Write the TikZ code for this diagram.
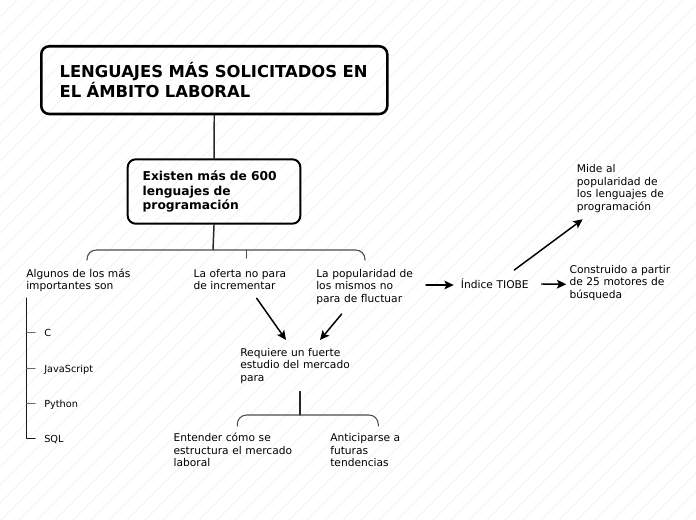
\documentclass[tikz,border=0pt]{standalone}
\usepackage{fontspec}
\setmainfont{DejaVu Sans}
\usetikzlibrary{arrows.meta}

\tikzset{
  fondo/.style={gray!13, line width=0.4pt},
  caja/.style={draw, rounded corners=6pt, anchor=north west, align=left, inner ysep=0pt},
  texto/.style={anchor=base west, inner sep=0pt, align=left, text width=110pt, font=\fontsize{8}{9.4}\selectfont},
  elem/.style={anchor=base west, inner sep=0pt, font=\fontsize{7.3}{9}\selectfont},
  tallo/.style={line width=1.1pt, black!85},
  llave/.style={line width=0.8pt, black!70, rounded corners=7pt},
  lista/.style={line width=1.1pt, black!90},
  marca/.style={line width=0.9pt, black!60},
  flecha/.style={line width=1.1pt, -{Stealth[length=7pt,width=6.5pt,inset=1.5pt]}}
}

\begin{document}
\begin{tikzpicture}[line cap=round, line join=round, x=0.75pt, y=-0.75pt]
\useasboundingbox (0,0) rectangle (696,520);
\fill[white] (0,0) rectangle (696,520);
% fondo rayado
\begin{scope}
  \clip (0,0) rectangle (696,520);
  \foreach \c in {-1,17,...,1223}
    \draw[fondo] (\c,0) -- (\c-520,520);
\end{scope}

% cajas
\node[caja, line width=1.9pt, minimum width=259.5pt, minimum height=50.8pt, text width=232pt, inner xsep=13.75pt,
  font=\fontsize{12.3}{14.5}\selectfont\bfseries] (titulo) at (40,45) {LENGUAJES MÁS SOLICITADOS EN\\EL ÁMBITO LABORAL};
\node[caja, line width=1.5pt, minimum width=129.5pt, minimum height=48.3pt, text width=107pt, inner xsep=11.25pt,
  font=\fontsize{9.2}{11}\selectfont\bfseries] (existen) at (126.7,158.3) {Existen más de 600\\lenguajes de\\programación};

% textos
\node[texto] (algunos) at (26,277) {Algunos de los más\\importantes son};
\node[texto] (oferta) at (193.3,277) {La oferta no para\\de incrementar};
\node[texto] (popular) at (316,277) {La popularidad de\\los mismos no\\para de fluctuar};
\node[texto] (requiere) at (240,356) {Requiere un fuerte\\estudio del mercado\\para};
\node[texto] (entender) at (173.3,441.7) {Entender cómo se\\estructura el mercado\\laboral};
\node[texto] (anticipa) at (330,441.7) {Anticiparse a\\futuras\\tendencias};
\node[texto] (tiobe) at (460.7,288.3) {Índice TIOBE};
\node[texto] (construido) at (569.3,273.3) {Construido a partir\\de 25 motores de\\búsqueda};
\node[texto] (mide) at (576.7,172.7) {Mide al\\popularidad de\\los lenguajes de\\programación};

% lista
\node[elem] (c) at (44,336.7) {C};
\node[elem] (js) at (44,372.3) {JavaScript};
\node[elem] (py) at (44,407.3) {Python};
\node[elem] (sql) at (44,442.3) {SQL};
\coordinate (lst) at ([shift={(0.7,21.3)}]algunos.base west);
\draw[lista] (lst) |- ([shift={(-9,-4)}]sql.base west);
\foreach \n in {c,js,py}
  \draw[marca] ([shift={(-9,-4)}]\n.base west) -- ([shift={(-17.3,-4)}]\n.base west);

% llaves
\coordinate (bu) at (213,250);
\coordinate (b1) at (87,260);
\coordinate (b2) at (246.7,258);
\coordinate (b3) at (365,260);
\draw[tallo] (titulo.south) -- (existen.north);
\draw[tallo] (existen.south) -- (bu);
\draw[llave] (b1) -- (87,250) -- (365,250) -- (b3);
\draw[llave] (b2) -- (246.7,250);
\coordinate (bl) at (300,415);
\coordinate (b4) at (237.3,426);
\coordinate (b5) at (378.3,426);
\draw[tallo, line width=1.4pt] ([shift={(60,35.7)}]requiere.base west) -- (bl);
\draw[llave] (b4) -- (237.3,415) -- (378.3,415) -- (b5);

% flechas
\draw[flecha] ([shift={(63.4,21.3)}]oferta.base west) -- ([shift={(46,-16)}]requiere.base west);
\draw[flecha] ([shift={(25.7,37)}]popular.base west) -- ([shift={(80,-16)}]requiere.base west);
\draw[flecha] ([shift={(110,8)}]popular.base west) -- ([shift={(-7,-3.3)}]tiobe.base west);
\draw[flecha] ([shift={(81,-4.3)}]tiobe.base west) -- ([shift={(-3,11)}]construido.base west);
\draw[flecha] ([shift={(53.6,-18.3)}]tiobe.base west) -- ([shift={(6,46.6)}]mide.base west);
\end{tikzpicture}
\end{document}
